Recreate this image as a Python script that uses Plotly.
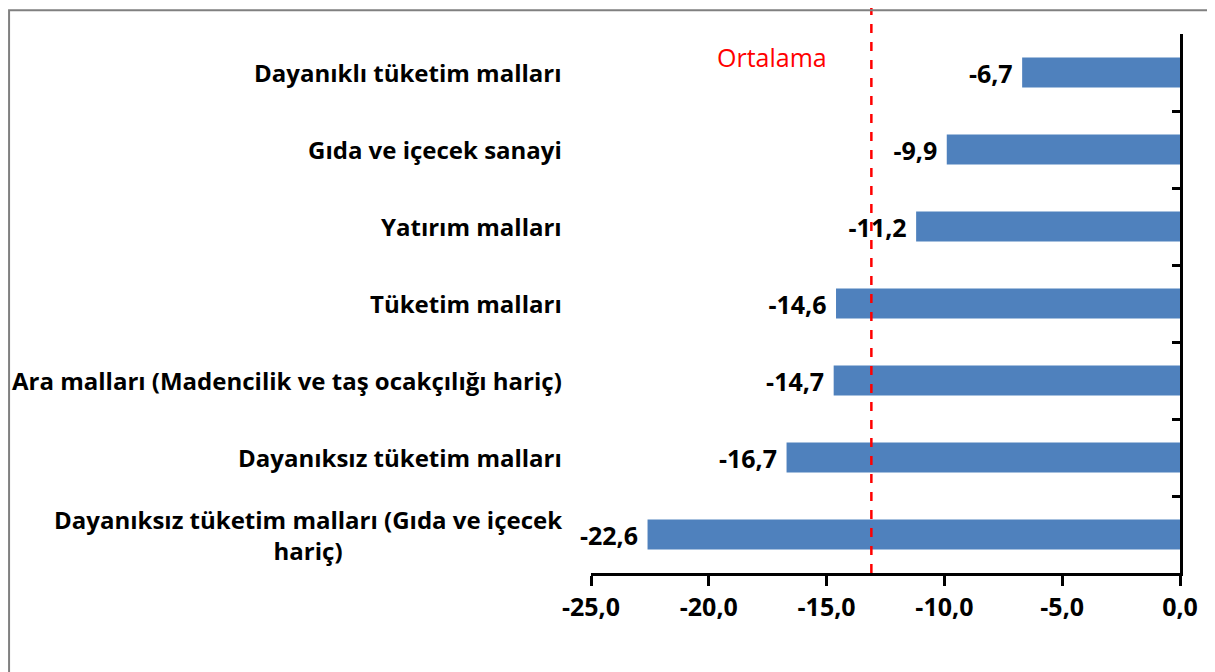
import plotly.graph_objects as go

categories = [
    "Dayanıksız tüketim malları (Gıda ve içecek<br>hariç)",
    "Dayanıksız tüketim malları",
    "Ara malları (Madencilik ve taş ocakçılığı hariç)",
    "Tüketim malları",
    "Yatırım malları",
    "Gıda ve içecek sanayi",
    "Dayanıklı tüketim malları",
]
values = [-22.6, -16.7, -14.7, -14.6, -11.2, -9.9, -6.7]
average = -13.1
avg_label = "Ortalama"
x_ticks = [-25, -20, -15, -10, -5, 0]


def fmt(v):
    return f"{v:.1f}".replace(".", ",")


FONT = "Open Sans"
n = len(categories)
pos = list(range(n))

fig = go.Figure()
fig.add_trace(go.Bar(
    x=values, y=pos, orientation="h",
    marker=dict(color="#4F81BD", line=dict(width=0)),
    width=0.39,
    text=[fmt(v) + "\u00a0" for v in values], texttemplate="%{text}", textposition="outside",
    constraintext="none",
    textfont=dict(family=FONT, size=25, color="black", weight="bold"),
    cliponaxis=False, showlegend=False, hoverinfo="skip",
))
# helper trace for right-side y axis (category boundaries)
fig.add_trace(go.Scatter(x=[None], y=[None], yaxis="y2", showlegend=False))

for p, c in zip(pos, categories):
    fig.add_annotation(
        x=0, xref="paper", xanchor="right", xshift=-27,
        y=p, yref="y", text=c, showarrow=False, align="center",
        font=dict(family=FONT, size=24, color="black", weight="bold"),
    )

fig.add_shape(type="line", x0=average, x1=average, xref="x",
              y0=0, y1=1.07, yref="paper",
              line=dict(color="#FF0000", width=2.5, dash="dash"), layer="above")
fig.add_annotation(x=average, xref="x", xanchor="right", xshift=-42,
                   y=0.957, yref="paper", yanchor="middle",
                   text=avg_label, showarrow=False,
                   font=dict(family=FONT, size=25, color="#FF0000"))

fig.add_shape(type="rect", xref="paper", yref="paper",
              x0=-0.988, x1=1.052, y0=-0.3, y1=1.044,
              line=dict(color="#808080", width=2), fillcolor="rgba(0,0,0,0)")

fig.update_layout(
    width=1215, height=672,
    margin=dict(l=583, r=43, t=26, b=107),
    paper_bgcolor="white", plot_bgcolor="white",
    bargap=0.6,
    xaxis=dict(range=[-25, 0], tickvals=x_ticks, ticktext=[fmt(v) for v in x_ticks],
               showgrid=False, zeroline=False,
               showline=True, linecolor="black", linewidth=2.5,
               ticks="outside", ticklen=10, tickwidth=2.5, tickcolor="black",
               tickfont=dict(family=FONT, size=25, color="black", weight="bold")),
    yaxis=dict(range=[-0.5, n - 0.5], showticklabels=False, showgrid=False,
               zeroline=False, showline=False, ticks=""),
    yaxis2=dict(range=[-0.5, n - 0.5], overlaying="y", side="right",
                anchor="x", position=1,
                tickvals=[i - 0.5 for i in range(n + 1)],
                showticklabels=False, showgrid=False, zeroline=False,
                showline=True, linecolor="black", linewidth=2.5,
                ticks="inside", ticklen=8, tickwidth=2.5, tickcolor="black"),
)

fig.write_html("out.html")
